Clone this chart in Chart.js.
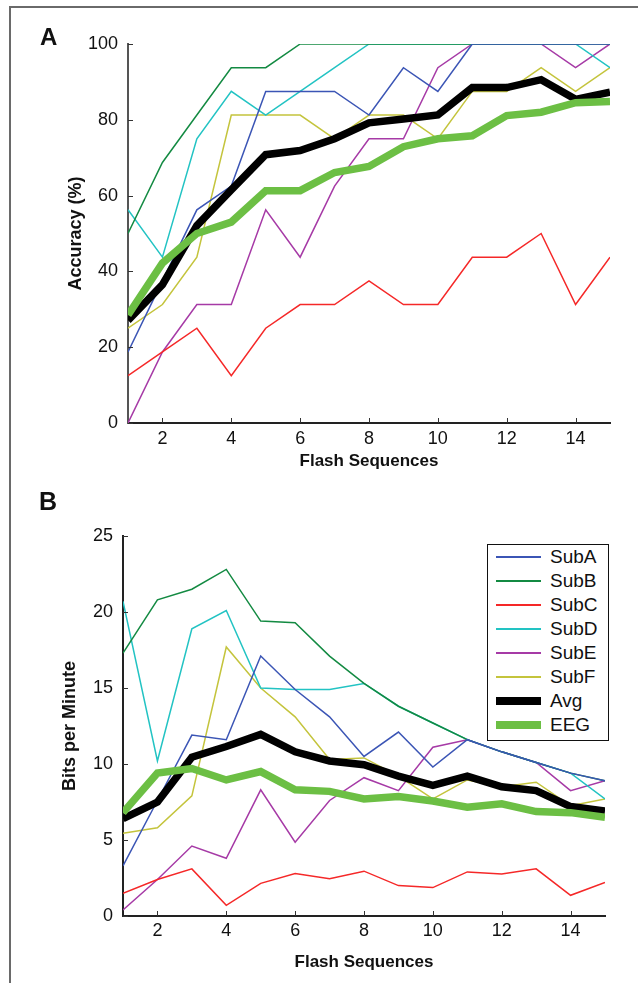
<!DOCTYPE html>
<html>
<head>
<meta charset="utf-8">
<script src="https://cdn.jsdelivr.net/npm/chart.js@4.4.0/dist/chart.umd.min.js"></script>
<style>
    body { margin: 0; background: #fff; }
    #page { position: relative; width: 638px; height: 983px; overflow: hidden; font-family: "Liberation Sans", Arial, sans-serif; }
    #frame { position: absolute; left: 9px; top: 6px; width: 640px; height: 990px; border-left: 2px solid #6a6a6a; border-top: 2px solid #6a6a6a; }
    .panel-letter { position: absolute; font-weight: bold; color: #111; }
    #chartA { position: absolute; left: 0; top: 0; }
    #chartB { position: absolute; left: 0; top: 490px; }
    #legendB { position: absolute; left: 487px; top: 544px; width: 120px; height: 195px; border: 1.5px solid #111; background: #fff; }
    .legend-row { position: relative; height: 24px; line-height: 24px; font-size: 19px; color: #111; }
    .legend-row .sample { position: absolute; left: 8px; width: 45px; }
    .legend-row .label { position: absolute; left: 62px; top: 0; }
</style>
</head>
<body>
<div id="page">
    <div id="frame"></div>
    <canvas id="chartA" width="638" height="490"></canvas>
    <canvas id="chartB" width="638" height="493"></canvas>
    <div class="panel-letter" style="left:40px; top:25px; font-size:24px; line-height:24px;">A</div>
    <div class="panel-letter" style="left:39px; top:489px; font-size:25px; line-height:25px;">B</div>
    <div id="legendB"></div>
</div>
<script>
const flashSeq = [1, 2, 3, 4, 5, 6, 7, 8, 9, 10, 11, 12, 13, 14, 15];
const xTicks = [2, 4, 6, 8, 10, 12, 14];
const accTicks = [0, 20, 40, 60, 80, 100];
const bpmTicks = [0, 5, 10, 15, 20, 25];

const seriesNames = ['SubA', 'SubB', 'SubC', 'SubD', 'SubE', 'SubF', 'Avg', 'EEG'];

// Accuracy (%)
const accSubA = [18.75, 37.5, 56.25, 62.5, 87.5, 87.5, 87.5, 81.25, 93.75, 87.5, 100, 100, 100, 100, 100];
const accSubB = [50, 68.75, 81.25, 93.75, 93.75, 100, 100, 100, 100, 100, 100, 100, 100, 100, 100];
const accSubC = [12.5, 18.75, 25, 12.5, 25, 31.25, 31.25, 37.5, 31.25, 31.25, 43.75, 43.75, 50, 31.25, 43.75];
const accSubD = [56.25, 43.75, 75, 87.5, 81.25, 87.5, 93.75, 100, 100, 100, 100, 100, 100, 100, 93.75];
const accSubE = [0, 18.75, 31.25, 31.25, 56.25, 43.75, 62.5, 75, 75, 93.75, 100, 100, 100, 93.75, 100];
const accSubF = [25, 31.25, 43.75, 81.25, 81.25, 81.25, 75, 81.25, 81.25, 75, 87.5, 87.5, 93.75, 87.5, 93.75];
const accAvg = [27.1, 36.5, 52.1, 61.5, 70.8, 71.9, 75, 79.2, 80.2, 81.3, 88.5, 88.5, 90.6, 85.4, 87.3];
const accEEG = [28.5, 42.2, 50, 53, 61.3, 61.3, 66.1, 67.7, 72.9, 75, 75.8, 81.1, 82, 84.5, 84.8];

// Bits per minute
const bpmSubA = [3.3, 7.6, 11.9, 11.6, 17.1, 14.9, 13.1, 10.5, 12.1, 9.8, 11.6, 10.8, 10.1, 9.4, 8.9];
const bpmSubB = [17.3, 20.8, 21.5, 22.8, 19.4, 19.3, 17.1, 15.3, 13.8, 12.7, 11.6, 10.8, 10.1, 9.4, 8.9];
const bpmSubC = [1.5, 2.4, 3.1, 0.7, 2.15, 2.8, 2.45, 2.95, 2.0, 1.87, 2.9, 2.77, 3.1, 1.36, 2.2];
const bpmSubD = [20.7, 10.2, 18.9, 20.1, 15.0, 14.9, 14.9, 15.3, 13.8, 12.7, 11.6, 10.8, 10.1, 9.4, 7.7];
const bpmSubE = [0.4, 2.4, 4.6, 3.8, 8.3, 4.85, 7.6, 9.1, 8.25, 11.1, 11.6, 10.8, 10.1, 8.25, 8.9];
const bpmSubF = [5.45, 5.8, 7.9, 17.7, 15.0, 13.1, 10.3, 10.4, 9.2, 7.7, 8.95, 8.5, 8.8, 7.25, 7.7];
const bpmAvg = [6.4, 7.5, 10.45, 11.15, 11.95, 10.8, 10.2, 9.95, 9.2, 8.6, 9.2, 8.5, 8.25, 7.2, 6.9];
const bpmEEG = [6.8, 9.4, 9.7, 8.95, 9.5, 8.3, 8.2, 7.7, 7.86, 7.57, 7.16, 7.38, 6.87, 6.8, 6.5];

const seriesColors = ['#3b55b5', '#138a42', '#f52828', '#22c3c3', '#a63aa6', '#c4c43c', '#000000', '#6cbf44'];
const seriesWidths = [1.5, 1.5, 1.5, 1.5, 1.5, 1.5, 7.5, 7.5];

Chart.defaults.font.family = '"Liberation Sans", Arial, sans-serif';
Chart.defaults.font.size = 18;
Chart.defaults.color = '#111';

// MATLAB style ticks pointing into the plot
const inwardTicks = {
    id: 'inwardTicks',
    afterDatasetsDraw(chart) {
        const { ctx, chartArea, scales } = chart;
        ctx.save();
        ctx.strokeStyle = '#333';
        ctx.lineWidth = 1;
        scales.x.ticks.forEach(t => {
            const px = Math.round(scales.x.getPixelForValue(t.value)) + 0.5;
            ctx.beginPath();
            ctx.moveTo(px, chartArea.bottom);
            ctx.lineTo(px, chartArea.bottom - 5);
            ctx.stroke();
        });
        scales.y.ticks.forEach(t => {
            const py = Math.round(scales.y.getPixelForValue(t.value)) + 0.5;
            ctx.beginPath();
            ctx.moveTo(chartArea.left, py);
            ctx.lineTo(chartArea.left + 5, py);
            ctx.stroke();
        });
        ctx.restore();
    }
};

function makeDatasets(seriesList) {
    return seriesList.map((vals, i) => ({
        label: seriesNames[i],
        data: flashSeq.map((x, j) => ({ x: x, y: vals[j] })),
        borderColor: seriesColors[i],
        backgroundColor: seriesColors[i],
        borderWidth: seriesWidths[i],
        pointRadius: 0,
        tension: 0,
        fill: false,
        order: i === 7 ? 0 : (i === 6 ? 1 : 2)
    }));
}

function makeChart(canvasId, seriesList, cfg) {
    const ctx = document.getElementById(canvasId).getContext('2d');
    return new Chart(ctx, {
        type: 'line',
        data: { datasets: makeDatasets(seriesList) },
        plugins: [inwardTicks],
        options: {
            responsive: false,
            animation: false,
            layout: { padding: { top: cfg.top, right: cfg.right, left: 0, bottom: 0 } },
            plugins: { legend: { display: false }, tooltip: { enabled: false } },
            scales: {
                x: {
                    type: 'linear',
                    min: 1,
                    max: 15,
                    afterBuildTicks: scale => { scale.ticks = xTicks.map(v => ({ value: v })); },
                    afterFit: scale => { scale.height = cfg.xHeight; },
                    grid: { display: false, drawTicks: false },
                    border: { color: '#222', width: 2 },
                    ticks: { padding: cfg.xPad, color: '#111' },
                    title: {
                        display: true,
                        text: 'Flash Sequences',
                        font: { size: 17, weight: 'bold' },
                        color: '#111',
                        padding: { top: 0, bottom: cfg.xTitlePad }
                    }
                },
                y: {
                    min: cfg.yMin,
                    max: cfg.yMax,
                    afterBuildTicks: scale => { scale.ticks = cfg.yTicks.map(v => ({ value: v })); },
                    afterFit: scale => { scale.width = cfg.yWidth; },
                    grid: { display: false, drawTicks: false },
                    border: { color: cfg.yBorder, width: 2 },
                    ticks: { padding: 10, color: '#111' },
                    title: {
                        display: true,
                        text: cfg.yTitle,
                        font: { size: 18, weight: 'bold' },
                        color: '#111',
                        padding: { top: cfg.yTitlePad, bottom: 0 }
                    }
                }
            }
        }
    });
}

function buildLegend(chart, el) {
    chart.data.datasets.forEach(ds => {
        const row = document.createElement('div');
        row.className = 'legend-row';
        const sample = document.createElement('span');
        sample.className = 'sample';
        sample.style.height = ds.borderWidth + 'px';
        sample.style.top = (12 - ds.borderWidth / 2) + 'px';
        sample.style.background = ds.borderColor;
        const label = document.createElement('span');
        label.className = 'label';
        label.textContent = ds.label;
        row.appendChild(sample);
        row.appendChild(label);
        el.appendChild(row);
    });
}

const chartA = makeChart('chartA',
    [accSubA, accSubB, accSubC, accSubD, accSubE, accSubF, accAvg, accEEG],
    { top: 44, right: 28, xHeight: 67, yWidth: 128, xPad: 5, xTitlePad: 18, yTitlePad: 65,
      yMin: 0, yMax: 100, yTicks: accTicks, yTitle: 'Accuracy (%)', yBorder: '#555' });

const chartB = makeChart('chartB',
    [bpmSubA, bpmSubB, bpmSubC, bpmSubD, bpmSubE, bpmSubF, bpmAvg, bpmEEG],
    { top: 46, right: 33, xHeight: 67, yWidth: 123, xPad: 4, xTitlePad: 10, yTitlePad: 59,
      yMin: 0, yMax: 25, yTicks: bpmTicks, yTitle: 'Bits per Minute', yBorder: '#222' });

buildLegend(chartB, document.getElementById('legendB'));
</script>
</body>
</html>
